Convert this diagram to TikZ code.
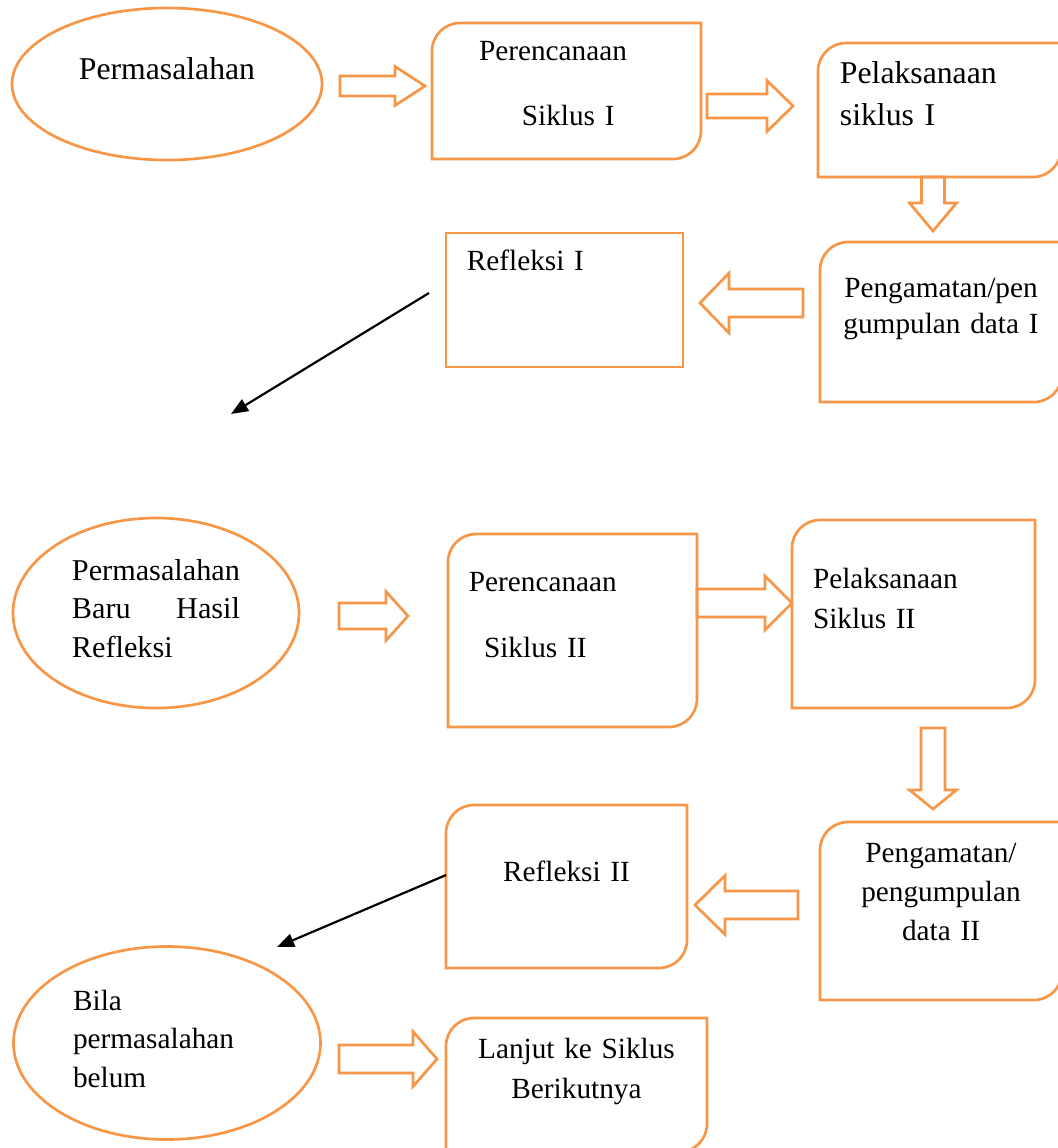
\documentclass[tikz,border=0pt]{standalone}
\usepackage{fontspec}
\setmainfont{Liberation Serif}
\usetikzlibrary{shapes.geometric,calc,arrows.meta}
\definecolor{orng}{HTML}{F79646}
\newlength{\px}\setlength{\px}{0.41pt}
\newcommand{\crad}{11.5pt}
\newcommand{\setfs}[2]{\fontsize{#1}{#2}\selectfont}
% box outline, round corners top left and bottom right only
\newcommand{\halfround}[1]{%
  \draw[orline] (#1.north east) -- ([yshift=\crad]#1.south east)
    arc[start angle=0, end angle=-90, radius=\crad] -- (#1.south west)
    -- ([yshift=-\crad]#1.north west)
    arc[start angle=180, end angle=90, radius=\crad] -- cycle;}
\tikzset{
  orline/.style={draw=orng, line width=1.1pt},
  hollow/.style n args={3}{draw=orng, line width=1.1pt, line join=miter,
    to path={let \p1=($(\tikztotarget)!#3*\px!(\tikztostart)$) in
      ($(\tikztostart)!#1*\px!90:(\tikztotarget)$)
      -- ($(\p1)!#1*\px!90:(\tikztotarget)$)
      -- ($(\p1)!#2*\px!90:(\tikztotarget)$)
      -- (\tikztotarget)
      -- ($(\p1)!#2*\px!-90:(\tikztotarget)$)
      -- ($(\p1)!#1*\px!-90:(\tikztotarget)$)
      -- ($(\tikztostart)!#1*\px!-90:(\tikztotarget)$) -- cycle}},
  pointer/.style={-{Triangle[length=7pt,width=5.5pt]}, line width=0.9pt},
  oval/.style 2 args={ellipse, orline, inner sep=0pt, outer sep=0pt,
    minimum width=#1*\px, minimum height=#2*\px},
  frame/.style 2 args={rectangle, inner sep=0pt, outer sep=0pt,
    minimum width=#1*\px, minimum height=#2*\px},
}
\begin{document}
\begin{tikzpicture}[x=0.41pt, y=-0.41pt]
\useasboundingbox (0,0) rectangle (1058,1148);
% siklus I
\node[oval={310}{152}, font=\setfs{13}{16}, text height=9pt, text depth=12.3pt] (prob1) at (167,84) {Permasalahan};
\node[frame={269}{136}, text width=71.75pt, align=left, font=\setfs{12}{16}, text height=8.5pt, text depth=33.9pt] (plan1) at (566.5,91) {Perencanaan\\[11pt]\hspace*{17.6pt}Siklus I};
\node[frame={243}{134}, text width=81.6pt, align=left, font=\setfs{13}{17.6}, text height=9pt, text depth=31.1pt] (exec1) at (939.5,110) {Pelaksanaan\\siklus I};
\node[frame={242}{160}, text width=90pt, align=center, font=\setfs{12}{14.8}, text height=8.5pt, text depth=29pt] (obs1) at (941,322) {Pengamatan/pen\\gumpulan data I};
\node[frame={237}{134}, orline, text width=80pt, align=left, font=\setfs{12}{16}, text height=8.5pt, text depth=33.1pt] (refl1) at (564.5,300) {Refleksi I};
\halfround{plan1}
\halfround{exec1}
\halfround{obs1}
% siklus II
\node[oval={286}{190}, text width=68.9pt, align=left, font=\setfs{12.4}{15.8}, text height=8.5pt, text depth=35.5pt] (prob2) at (156,613) {Permasalahan\\Baru\hfill Hasil\\Refleksi};
\node[frame={249}{193}, text width=84.9pt, align=left, font=\setfs{12}{16}, text height=8.5pt, text depth=40.1pt] (plan2) at (572.5,630.5) {Perencanaan\\[11pt]\hspace*{6.2pt}Siklus II};
\node[frame={243}{188}, text width=82.4pt, align=left, font=\setfs{12}{16.4}, text height=8.5pt, text depth=29.8pt] (exec2) at (913.5,614) {Pelaksanaan\\Siklus II};
\node[frame={242}{178}, text width=90pt, align=center, font=\setfs{12}{15.8}, text height=8.5pt, text depth=47.9pt] (obs2) at (941,911) {Pengamatan/\\pengumpulan\\data II};
\node[frame={241}{163}, text width=90pt, align=center, font=\setfs{12}{16}, text height=8.5pt, text depth=13pt] (refl2) at (566.5,886.5) {Refleksi II};
\node[oval={307}{193}, text width=77pt, align=left, font=\setfs{12}{15.8}, text height=8.5pt, text depth=35.5pt] (prob3) at (167,1043) {Bila\\permasalahan\\belum};
\node[frame={261}{134}, text width=100pt, align=center, font=\setfs{12}{16.4}, text height=8.5pt, text depth=30.6pt] (next) at (576.5,1085) {Lanjut ke Siklus\\Berikutnya};
\halfround{plan2}
\halfround{exec2}
\halfround{obs2}
\halfround{refl2}
\halfround{next}
% ends of the hollow arrows
\coordinate (a1s) at (340,86);   \coordinate (a1e) at (425,86);
\coordinate (a2s) at (707,106);  \coordinate (a2e) at (793,106);
\coordinate (d1s) at (933,177);  \coordinate (d1e) at (933,231);
\coordinate (l1s) at (803,303);  \coordinate (l1e) at (700,303);
\coordinate (a3s) at (339,616);  \coordinate (a3e) at (408,616);
\coordinate (a4s) at (697,603);  \coordinate (a4e) at (792,603);
\coordinate (d2s) at (933,728);  \coordinate (d2e) at (933,809);
\coordinate (l2s) at (798,905);  \coordinate (l2e) at (695,905);
\coordinate (a5s) at (339,1059); \coordinate (a5e) at (437,1059);
\draw[hollow={10}{19.5}{30}] (a1s) to (a1e);
\draw[hollow={12}{25.5}{26}] (a2s) to (a2e);
\draw[hollow={11.5}{23.5}{28}] (d1s) to (d1e);
\draw[hollow={14}{30}{29}] (l1s) to (l1e);
\draw[hollow={13}{24.5}{22}] (a3s) to (a3e);
\draw[hollow={14}{27}{27}] (a4s) to (a4e);
\draw[hollow={12}{23.5}{19}] (d2s) to (d2e);
\draw[hollow={14}{29.5}{30}] (l2s) to (l2e);
\draw[hollow={14}{27.5}{24}] (a5s) to (a5e);
% black arrows
\coordinate (b1s) at (429,293);
\coordinate (b1e) at (231,414);
\coordinate (b2e) at (277,947);
\draw[pointer] (b1s) -- (b1e);
\draw[pointer] ([yshift=4.7pt]refl2.west) -- (b2e);
\end{tikzpicture}
\end{document}
